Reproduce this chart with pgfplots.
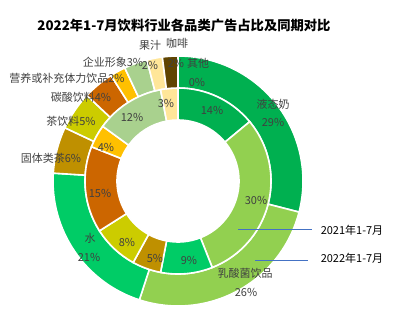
\documentclass[border=0pt]{standalone}
\usepackage{fontspec}
\usepackage{pgfplots}
\usepackage{pgfplotstable}
\pgfplotsset{compat=1.18}
\setmainfont{Noto Sans CJK SC}
\definecolor{c0}{HTML}{00B050}
\definecolor{c1}{HTML}{92D050}
\definecolor{c2}{HTML}{00CC66}
\definecolor{c3}{HTML}{BF9000}
\definecolor{c4}{HTML}{CCCC00}
\definecolor{c5}{HTML}{CC6600}
\definecolor{c6}{HTML}{FFC000}
\definecolor{c7}{HTML}{A9D18E}
\definecolor{c8}{HTML}{FFE699}
\definecolor{c9}{HTML}{604400}
\definecolor{c10}{HTML}{D9D9D9}
\definecolor{lab}{HTML}{404040}
\definecolor{lline}{HTML}{4472C4}

\pgfplotstableread{
idx v22 v21
0 29 14
1 26 30
2 21 9
3 6 5
4 5 8
5 4 15
6 2 4
7 3 12
8 2 3
9 2 0
10 0 0
}\data

\newcommand\sector[5]{%
  \pgfmathsetmacro\xa{178+#4*cos(#1)}%
  \pgfmathsetmacro\ya{144+#4*sin(#1)}%
  \pgfmathsetmacro\xb{178+#3*cos(#2)}%
  \pgfmathsetmacro\yb{144+#3*sin(#2)}%
  \fill[#5, draw=white, line width=1.6pt] (axis cs:\xa,\ya)
    arc[start angle=#1, end angle=#2, radius=#4pt] -- (axis cs:\xb,\yb)
    arc[start angle=#2, end angle=#1, radius=#3pt] -- cycle;%
}

\begin{document}
\begin{tikzpicture}
\begin{axis}[x=1pt, y=1pt, xmin=0, xmax=417, ymin=0, ymax=325,
  hide axis, clip=false]
\pgfplotsextra{
  \path (axis cs:0,0) rectangle (axis cs:417,325);
  \xdef\cumA{0}\xdef\cumB{0}
  \foreach \i in {0,...,10}{
    \pgfplotstablegetelem{\i}{v22}\of\data \let\va\pgfplotsretval
    \pgfplotstablegetelem{\i}{v21}\of\data \let\vb\pgfplotsretval
    \pgfmathsetmacro\aa{90-3.6*\cumA}
    \pgfmathsetmacro\ab{90-3.6*(\cumA+\va)}
    \pgfmathsetmacro\ba{90-3.6*\cumB}
    \pgfmathsetmacro\bb{90-3.6*(\cumB+\vb)}
    \pgfmathparse{\va>0}\ifnum\pgfmathresult>0 \sector{\aa}{\ab}{93}{125}{c\i}\fi
    \pgfmathparse{\vb>0}\ifnum\pgfmathresult>0 \sector{\ba}{\bb}{61}{93}{c\i}\fi
    \pgfmathsetmacro\tA{\cumA+\va}\xdef\cumA{\tA}
    \pgfmathsetmacro\tB{\cumB+\vb}\xdef\cumB{\tB}
  }
}
% title
\node[font=\bfseries\fontsize{13.3}{16}\selectfont, text=black] at (axis cs:184,300) {2022年1-7月饮料行业各品类广告占比及同期对比};
% outer labels
\begin{scope}[every node/.style={text=lab, font=\fontsize{11}{13}\selectfont, inner sep=0pt}]
\node at (axis cs:273,221) {液态奶};
\node at (axis cs:273,203) {29\%};
\node at (axis cs:245,52) {乳酸菌饮品};
\node at (axis cs:246,33) {26\%};
\node at (axis cs:90,87) {水};
\node at (axis cs:89,68) {21\%};
\node at (axis cs:51,167) {固体类茶6\%};
\node at (axis cs:71,204) {茶饮料5\%};
\node at (axis cs:81,228) {碳酸饮料4\%};
\node at (axis cs:67,247) {营养或补充体力饮品2\%};
\node at (axis cs:113,263) {企业形象3\%};
\node at (axis cs:150,280) {果汁};
\node at (axis cs:150,260) {2\%};
\node at (axis cs:177,282) {咖啡};
\node at (axis cs:176,262) {2\%};
\node at (axis cs:198,262) {其他};
\node at (axis cs:197,243) {0\%};
% inner labels
\node at (axis cs:212,215) {14\%};
\node at (axis cs:256,125) {30\%};
\node at (axis cs:189,65) {9\%};
\node at (axis cs:155,67) {5\%};
\node at (axis cs:127,83) {8\%};
\node at (axis cs:100,132) {15\%};
\node at (axis cs:106,178) {4\%};
\node at (axis cs:132,208) {12\%};
\node at (axis cs:166,222) {3\%};
\end{scope}
% leader lines
\addplot[lline, line width=0.8pt, no marks] coordinates {(238,96) (312,96)};
\addplot[lline, line width=0.8pt, no marks] coordinates {(255,65) (308,65)};
\node[font=\fontsize{11}{13}\selectfont, text=black, inner sep=0pt] at (axis cs:352,95) {2021年1-7月};
\node[font=\fontsize{11}{13}\selectfont, text=black, inner sep=0pt] at (axis cs:352,67) {2022年1-7月};
\end{axis}
\end{tikzpicture}
\end{document}
